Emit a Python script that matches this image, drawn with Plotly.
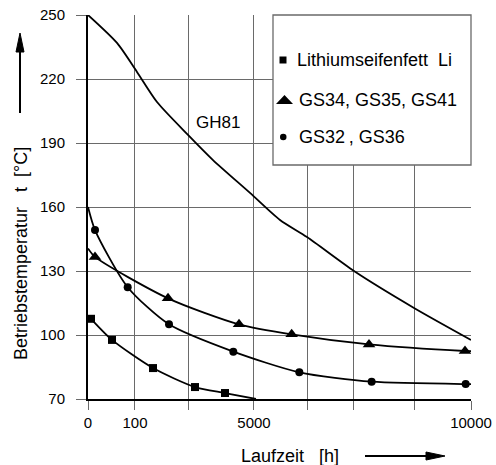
import plotly.graph_objects as go

# ---------------- data ----------------
# x is in schematic axis units (0..10000 across the drawn axis)
gh81_x = [0, 757, 1279, 1802, 2611, 3264, 4230, 5013, 5718, 6945, 8512, 10000]
gh81_y = [250, 236.9, 223.3, 209.2, 193.8, 182.0, 166.6, 153.9, 145.9, 130.0, 112.7, 97.7]

li_line_x = [78, 627, 1697, 2794, 3577, 4386]
li_line_y = [107.6, 97.7, 84.5, 75.6, 72.8, 70.0]
li_mark_x = [78, 627, 1697, 2794, 3577]
li_mark_y = [107.6, 97.7, 84.5, 75.6, 72.8]

gs34_line_x = [0, 183, 2089, 3943, 5318, 7337, 9843, 10000]
gs34_line_y = [140.6, 136.6, 117.2, 105.0, 100.3, 95.6, 92.5, 92.4]
gs34_mark_x = [183, 2089, 3943, 5318, 7337, 9843]
gs34_mark_y = [136.6, 117.2, 105.0, 100.3, 95.6, 92.5]

gs32_line_x = [0, 183, 1036, 2115, 3794, 5518, 7406, 9861, 10000]
gs32_line_y = [160.0, 149.2, 122.4, 105.0, 92.2, 82.5, 78.1, 77.0, 77.0]
gs32_mark_x = [183, 1036, 2115, 3794, 5518, 7406, 9861]
gs32_mark_y = [149.2, 122.4, 105.0, 92.2, 82.5, 78.1, 77.0]

x_grid = [0, 1227, 2611, 4334, 5718, 6945, 8512, 10000]
x_labels = ["0", "100", "", "5000", "", "", "", "10000"]
y_ticks = [70, 100, 130, 160, 190, 220, 250]

legend_names = ["Lithiumseifenfett\u00a0\u00a0Li", "GS34, GS35, GS41", "GS32\u2009, GS36"]

# ---------------- figure ----------------
W, H = 496, 465
L, R, T, B = 88, 25, 15, 66
pw, ph = W - L - R, H - T - B


def px(x):
    return (x - L) / pw


def py(y):
    return (H - B - y) / ph


FONT = "Liberation Sans, Arial, sans-serif"
LINE = dict(color="black", width=1.8, shape="spline", smoothing=0.7)

fig = go.Figure()
fig.add_trace(go.Scatter(x=gh81_x, y=gh81_y, mode="lines", line=LINE, showlegend=False, name="GH81"))
fig.add_trace(go.Scatter(x=li_line_x, y=li_line_y, mode="lines", line=LINE, showlegend=False))
fig.add_trace(go.Scatter(x=li_mark_x, y=li_mark_y, mode="markers",
                         marker=dict(symbol="square", size=8, color="black"), showlegend=False))
fig.add_trace(go.Scatter(x=gs34_line_x, y=gs34_line_y, mode="lines", line=LINE, showlegend=False))
fig.add_trace(go.Scatter(x=gs34_mark_x, y=gs34_mark_y, mode="markers",
                         marker=dict(symbol="triangle-up", size=11, color="black"), showlegend=False))
fig.add_trace(go.Scatter(x=gs32_line_x, y=gs32_line_y, mode="lines", line=LINE, showlegend=False))
fig.add_trace(go.Scatter(x=gs32_mark_x, y=gs32_mark_y, mode="markers",
                         marker=dict(symbol="circle", size=8, color="black"), showlegend=False))

GRID = "#6a6a6a"
fig.update_xaxes(range=[0, 10000], tickvals=x_grid, ticktext=x_labels, automargin=False,
                 showgrid=True, gridcolor=GRID, gridwidth=1.3,
                 ticks="outside", ticklen=9, tickcolor=GRID, tickwidth=1.3,
                 showline=True, linecolor="black", linewidth=2, zeroline=False,
                 tickfont=dict(family=FONT, size=15, color="black"))
fig.update_yaxes(range=[70, 250], tickvals=y_ticks, automargin=False,
                 showgrid=True, gridcolor=GRID, gridwidth=1.3,
                 ticks="outside", ticklen=10, tickcolor=GRID, tickwidth=1.3,
                 ticklabelstandoff=8,
                 showline=True, linecolor="black", linewidth=2, zeroline=False,
                 tickfont=dict(family=FONT, size=15, color="black"))

shapes = []
# legend box
shapes.append(dict(type="rect", xref="paper", yref="paper",
                   x0=px(273), x1=px(471), y0=py(165), y1=py(15),
                   fillcolor="white", line=dict(color=GRID, width=1.3), layer="above"))
# legend symbols
shapes.append(dict(type="rect", xref="paper", yref="paper",
                   x0=px(279.5), x1=px(286.5), y0=py(63.5), y1=py(56.5),
                   fillcolor="black", line=dict(width=0), layer="above"))
shapes.append(dict(type="path", xref="paper", yref="paper",
                   path=f"M {px(284.5)} {py(95)} L {px(293)} {py(104)} L {px(276)} {py(104)} Z",
                   fillcolor="black", line=dict(width=0), layer="above"))
shapes.append(dict(type="circle", xref="paper", yref="paper",
                   x0=px(280), x1=px(286.5), y0=py(140.3), y1=py(133.8),
                   fillcolor="black", line=dict(width=0), layer="above"))
# y arrow
shapes.append(dict(type="line", xref="paper", yref="paper",
                   x0=px(20), x1=px(20), y0=py(113), y1=py(48),
                   line=dict(color="black", width=2)))
shapes.append(dict(type="path", xref="paper", yref="paper",
                   path=f"M {px(20)} {py(33)} L {px(16)} {py(52)} L {px(24)} {py(52)} Z",
                   fillcolor="black", line=dict(color="black", width=1)))
# x arrow
shapes.append(dict(type="line", xref="paper", yref="paper",
                   x0=px(365), x1=px(430), y0=py(456), y1=py(456),
                   line=dict(color="black", width=2)))
shapes.append(dict(type="path", xref="paper", yref="paper",
                   path=f"M {px(445)} {py(456)} L {px(426)} {py(452)} L {px(426)} {py(460)} Z",
                   fillcolor="black", line=dict(color="black", width=1)))

ann = []
# axis titles
ann.append(dict(text="Laufzeit\u00a0\u00a0\u00a0[h]", xref="paper", yref="paper",
                x=px(290), y=py(456), showarrow=False, xanchor="center", yanchor="middle",
                font=dict(family=FONT, size=18, color="black")))
ann.append(dict(text="Betriebstemperatur\u00a0\u00a0\u00a0t\u00a0\u00a0[°C]", xref="paper", yref="paper",
                x=px(21), y=py(254), showarrow=False, textangle=-90, xanchor="center", yanchor="middle",
                font=dict(family=FONT, size=18, color="black")))
# curve label
ann.append(dict(text="GH81", xref="x", yref="y", x=3394, y=199.5, showarrow=False,
                font=dict(family=FONT, size=17, color="black")))
# legend entries
leg_y = [60, 100, 137]
txt_x = [295, 297, 297]
for i in range(3):
    ann.append(dict(text=legend_names[i], xref="paper", yref="paper", x=px(txt_x[i]), y=py(leg_y[i]),
                    showarrow=False, xanchor="left", yanchor="middle",
                    font=dict(family=FONT, size=18, color="black")))

fig.update_layout(width=W, height=H, margin=dict(l=L, r=R, t=T, b=B, pad=0),
                  plot_bgcolor="white", paper_bgcolor="white",
                  shapes=shapes, annotations=ann, showlegend=False)

fig.write_html("out.html")
